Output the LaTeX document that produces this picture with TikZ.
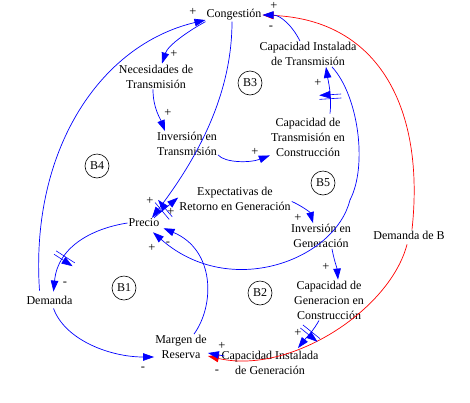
\documentclass[tikz,border=0pt]{standalone}
\usepackage{fontspec}
\setmainfont{Liberation Serif}
\usetikzlibrary{arrows.meta,decorations.markings}
\begin{document}
\begin{tikzpicture}[x=1pt,y=-1pt,
  lbl/.style={font=\fontsize{12}{15}\selectfont, align=center, inner sep=1pt},
  pol/.style={font=\fontsize{12.5}{14}\selectfont, inner sep=0pt},
  loopc/.style={draw, circle, line width=0.6pt, minimum size=24pt, inner sep=0pt, font=\fontsize{12}{14}\selectfont},
  arr/.style={draw=blue, line width=0.7pt, -{Triangle[length=11pt,width=7.5pt]}},
  rarr/.style={draw=red, line width=0.7pt, -{Triangle[length=11pt,width=7.5pt]}},
  delaymark/.style={postaction={decorate,decoration={markings,mark=at position #1 with {\draw[blue,line width=0.6pt] (-2pt,-11pt)--(-2pt,11pt) (2pt,-11pt)--(2pt,11pt);}}}}
]
\fill[white] (0,0) rectangle (470,402);
\useasboundingbox (0,0) rectangle (470,402);

% variables
\node[lbl] (cong) at (234,15) {Congestión};
\node[lbl] (capT) at (308,54) {Capacidad Instalada\\de Transmisión};
\node[lbl] (nec) at (156,76.5) {Necesidades de\\Transmisión};
\node[lbl] (invT) at (187,144) {Inversión en\\Transmisión};
\node[lbl] (ctc) at (308,137) {Capacidad de\\Transmisión en\\Construcción};
\node[lbl] (exp) at (235,198.5) {Expectativas de\\Retorno en Generación};
\node[lbl] (precio) at (144,223) {Precio};
\node[lbl] (invG) at (321,236) {Inversión en\\Generación};
\node[lbl] (demB) at (409,235) {Demanda de B};
\node[lbl] (cgc) at (329,300) {Capacidad de\\Generacion en\\Construcción};
\node[lbl] (capG) at (270,363) {Capacidad Instalada\\de Generación};
\node[lbl] (margen) at (181,347) {Margen de\\Reserva};
\node[lbl] (dem) at (49.5,300) {Demanda};

% loop markers
\node[loopc] (b1) at (124,288) {B1};
\node[loopc] (b2) at (260,293) {B2};
\node[loopc] (b3) at (250,83) {B3};
\node[loopc] (b4) at (97,166) {B4};
\node[loopc] (b5) at (323,183) {B5};

% red links
\draw[rarr] ([xshift=3pt]demB.north) .. controls (425,110) and (380,20) .. (cong.east);
\draw[rarr] ([xshift=-2pt,yshift=-4pt]demB.south) .. controls (390,310) and (290,375) .. ([yshift=-9pt]margen.east);

% blue links
\draw[arr] (cong.south west) .. controls (190,30) and (168,45) .. ([xshift=6pt]nec.north);
\draw[arr] ([xshift=-10pt,yshift=4pt]dem.north) .. controls (30,150) and (100,45) .. ([yshift=-5pt]cong.west);
\draw[arr] ([xshift=-2pt]cong.south) .. controls (232,100) and (192,165) .. ([xshift=8pt]precio.north);
\draw[arr] ([xshift=-3pt]nec.south) .. controls (153,108) and (160,118) .. ([xshift=-22pt]invT.north);
\draw[arr] ([yshift=2pt]invT.south east) .. controls (225,163) and (250,163) .. ([yshift=2pt]ctc.south west);
\draw[arr,delaymark=0.36] ([xshift=22pt,yshift=3pt]ctc.north) .. controls (332,95) and (328,80) .. ([xshift=18pt]capT.south);
\draw[arr] ([xshift=-8pt]capT.north) .. controls (292,25) and (280,15) .. (cong.east);
\draw[arr] ([xshift=11pt]invG.south) .. controls (334,260) and (337,268) .. ([xshift=9pt]cgc.north);
\draw[arr] ([yshift=-3pt]exp.east) .. controls (300,205) and (310,212) .. ([xshift=-8pt]invG.north);
\draw[arr,delaymark=0.4] ([xshift=10pt]precio.north) -- ([yshift=1pt]exp.west);
\draw[arr,delaymark=0.68] (precio.west) .. controls (95,228) and (58,245) .. ([xshift=4pt,yshift=3pt]dem.north);
\draw[arr] ([xshift=4pt,yshift=-3pt]dem.south) .. controls (65,340) and (110,357) .. ([yshift=-10pt]margen.west);
\draw[arr] ([xshift=13pt]margen.north) .. controls (215,305) and (215,250) .. ([xshift=3pt]precio.south east);
\draw[arr] ([xshift=24pt]capT.south) .. controls (358,95) and (368,165) .. (350,200) .. controls (335,260) and (230,300) .. ([xshift=9pt,yshift=-4pt]precio.south);
\draw[arr,delaymark=0.45] ([xshift=-10pt]cgc.south) .. controls (314,330) and (306,338) .. ([xshift=28pt,yshift=2pt]capG.north);
\draw[arr] ([xshift=4pt,yshift=7pt]capG.west) -- ([yshift=-6pt]margen.east);

% polarities
\node[pol] (p1) at (193,12) {+};
\node[pol] (p2) at (174,54) {+};
\node[pol] (p3) at (168,113) {+};
\node[pol] (p4) at (255,152) {+};
\node[pol] (p5) at (318,83) {+};
\node[pol] (p6) at (274,6) {+};
\node[pol] (p7) at (271,28) {-};
\node[pol] (p8) at (150,201) {+};
\node[pol] (p9) at (171,212) {+};
\node[pol] (p10) at (298,218) {+};
\node[pol] (p11) at (326,267) {+};
\node[pol] (p12) at (298,333) {+};
\node[pol] (p13) at (222,346) {+};
\node[pol] (p14) at (217,372) {-};
\node[pol] (p15) at (143,369) {-};
\node[pol] (p16) at (65,284) {-};
\node[pol] (p17) at (168,244) {-};
\node[pol] (p18) at (152,248) {+};
\end{tikzpicture}
\end{document}
